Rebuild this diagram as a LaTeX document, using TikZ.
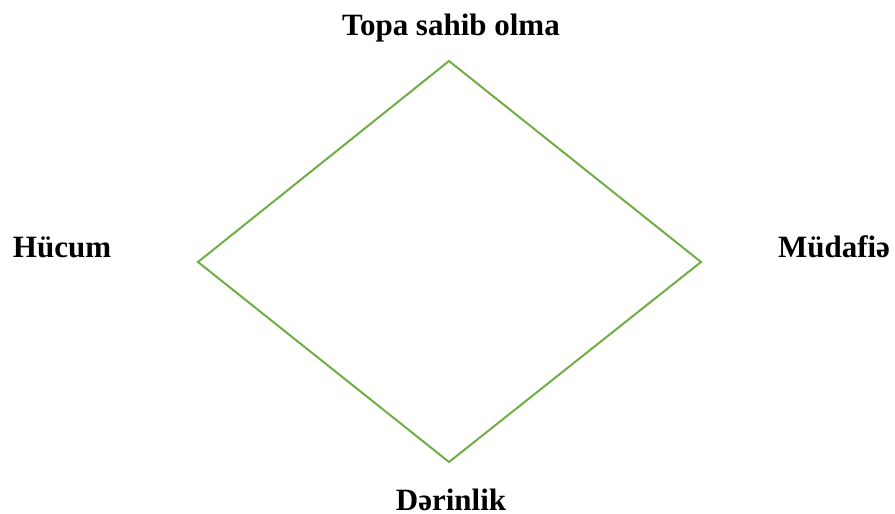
\documentclass[tikz,border=0pt]{standalone}
\usepackage{fontspec}
\setmainfont{Liberation Serif}
\usepackage{tikz}
\usetikzlibrary{positioning}
\usepackage{xcolor}
\definecolor{edgegreen}{HTML}{70AD47}
\definecolor{labelblack}{HTML}{000000}

\begin{document}
\begin{tikzpicture}[x=1pt, y=-1pt,
  every node/.style={text=labelblack},
  cornerlabel/.style={
    font=\fontsize{31}{36}\selectfont\bfseries,
    inner sep=0pt,
    anchor=base
  },
  rhombus/.style={
    draw=edgegreen,
    line width=2pt,
    line join=miter
  }
]
  \useasboundingbox (0,0) rectangle (895,514);

  % Kunclar
  \coordinate (top) at (449,61);
  \coordinate (left) at (198,262);
  \coordinate (right) at (701,262);
  \coordinate (bottom) at (449,462);

  % Romb
  \draw[rhombus] (top) -- (right) -- (bottom) -- (left) -- cycle;

  % Etiketlər
  \node[cornerlabel] (possession) at (451,35) {Topa sahib olma};
  \node[cornerlabel] (attack) at (62,257) {Hücum};
  \node[cornerlabel] (defence) at (834,257) {Müdafiə};
  \node[cornerlabel] (depth) at (451,510) {Dərinlik};
\end{tikzpicture}
\end{document}
